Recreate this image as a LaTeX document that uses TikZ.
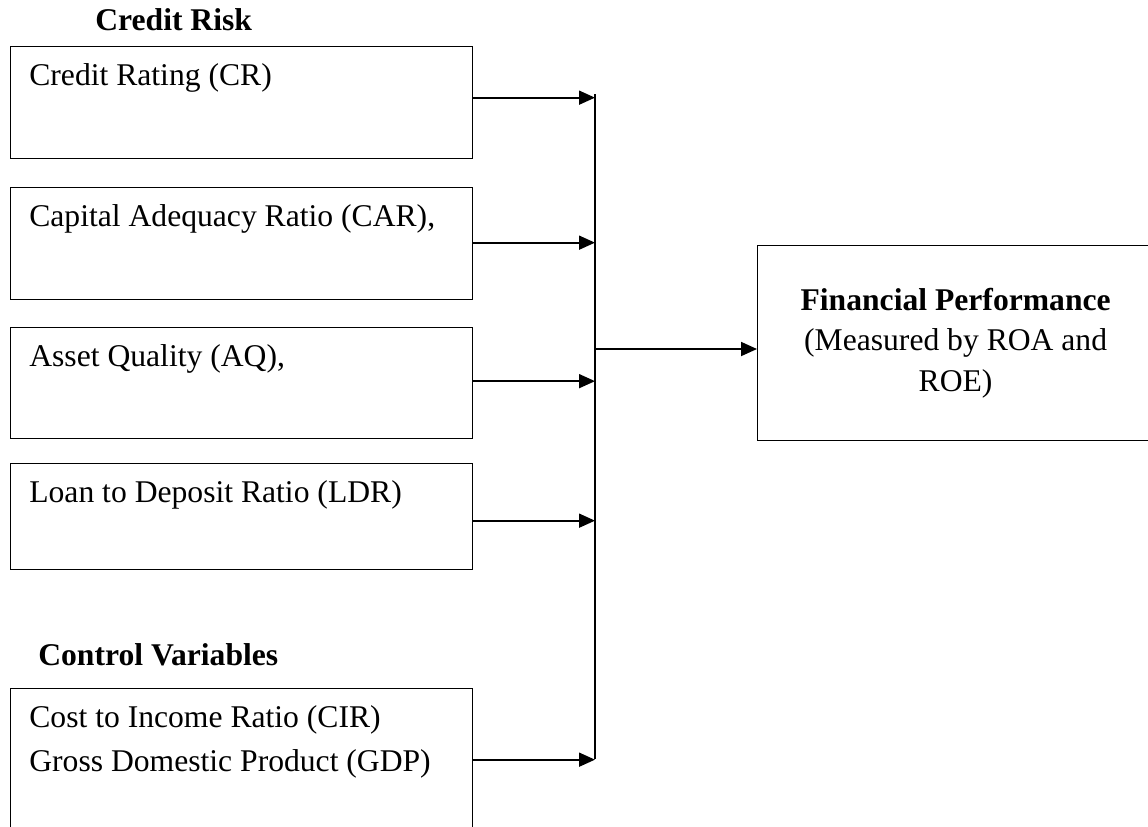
\documentclass[tikz,border=0pt]{standalone}
\usepackage{fontspec}
\setmainfont{Liberation Serif}
\usetikzlibrary{arrows.meta}

\newcommand{\dfont}{\fontsize{18}{25}\selectfont}

\tikzset{
  factorbox/.style={draw,line width=0.75pt,minimum width=9.24cm,anchor=north west,inner sep=0pt},
  factortext/.style={anchor=base west,inner sep=0pt,align=left},
  heading/.style={anchor=base west,inner sep=0pt,font=\dfont\bfseries},
  feed/.style={line width=1pt,-{Triangle[length=0.32cm,width=0.28cm]}},
}

\begin{document}
\begin{tikzpicture}[x=0.02cm,y=-0.02cm,font=\dfont]
\useasboundingbox (0,0) rectangle (1148,826);
\clip (0,0) rectangle (1148,826);

% credit risk boxes
\node[factorbox,minimum height=2.24cm] (cr) at (10,46) {};
\node[factorbox,minimum height=2.24cm] (car) at (10,187) {};
\node[factorbox,minimum height=2.22cm] (aq) at (10,327) {};
\node[factorbox,minimum height=2.12cm] (ldr) at (10,463) {};
\node[factorbox,minimum height=2.84cm] (cv) at (10,688) {};

\node[heading] (crisk) at ([shift={(85,-16)}]cr.north west) {Credit Risk};
\node[heading] (ctrl) at ([shift={(28,-23)}]cv.north west) {Control Variables};

\node[factortext] (crtxt) at ([shift={(19,39)}]cr.north west) {Credit Rating (CR)};
\node[factortext] (cartxt) at ([shift={(19,39)}]car.north west) {Capital Adequacy Ratio (CAR),};
\node[factortext] (aqtxt) at ([shift={(19,39)}]aq.north west) {Asset Quality (AQ),};
\node[factortext] (ldrtxt) at ([shift={(19,39)}]ldr.north west) {Loan to Deposit Ratio (LDR)};
% last line sits on the base anchor
\node[factortext] (cvtxt) at ([shift={(19,83)}]cv.north west) {Cost to Income Ratio (CIR)\\Gross Domestic Product (GDP)};

% outcome
\node[draw,line width=0.75pt,anchor=north west,minimum width=7.92cm,minimum height=3.9cm,
  align=center,font=\fontsize{18}{23}\selectfont] (fp) at (757,245)
  {\textbf{Financial Performance}\\(Measured by ROA and\\ROE)};

% bus line
\coordinate (bustop) at (595,94);
\coordinate (busmid) at (595,349);
\coordinate (busbot) at (595,759);
\draw[line width=1pt] (bustop) -- (busbot);

\foreach \b/\dy in {cr/0.1cm,car/0.02cm,aq/0.04cm,ldr/-0.08cm,cv/0cm}{
  \path ([yshift=\dy]\b.east) coordinate (\b-out);
  \draw[feed] (\b-out) -- (\b-out -| bustop);
}
\draw[feed] (busmid) -- (fp.west |- busmid);

\end{tikzpicture}
\end{document}
